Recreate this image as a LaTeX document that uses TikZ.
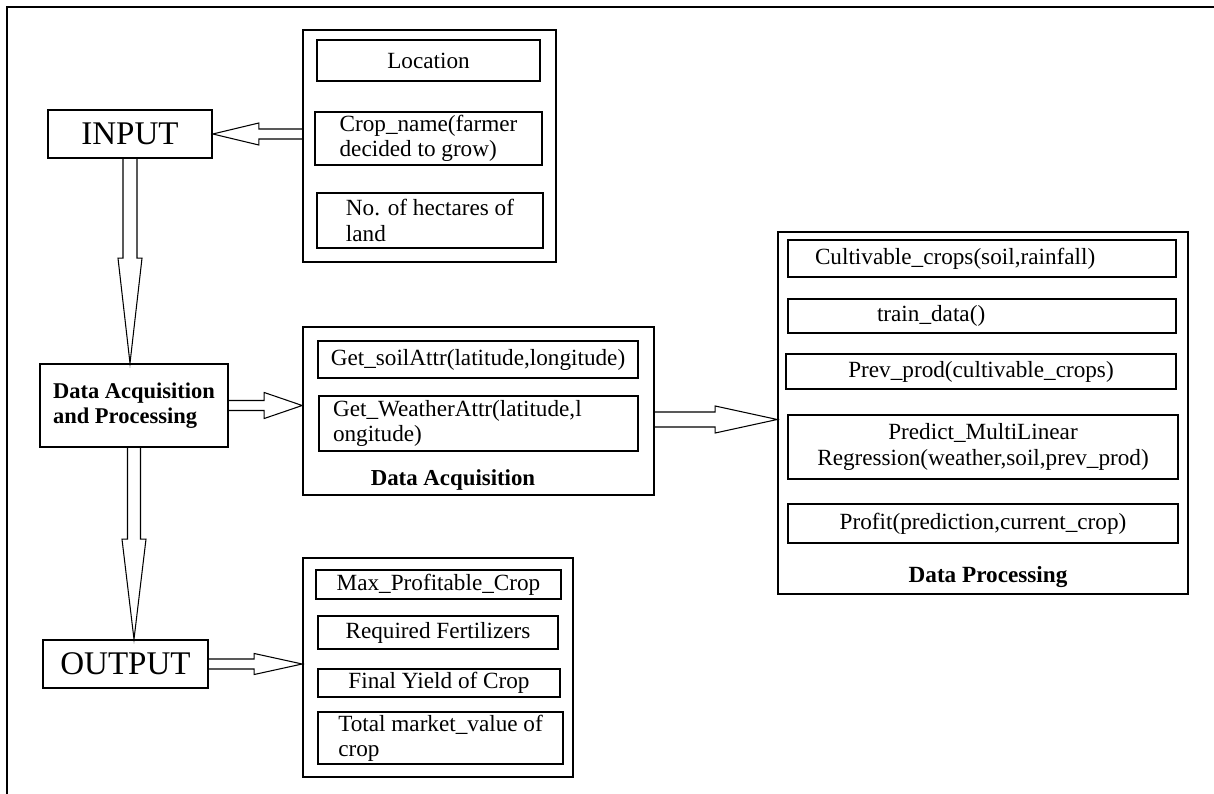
\documentclass[tikz,border=0pt]{standalone}
\usepackage{fontspec}
\setmainfont{Liberation Serif}
\usetikzlibrary{calc}
\tikzset{
    every picture/.style={line width=0.9pt},
    blk/.style={draw,inner sep=0pt,font=\fontsize{18.8}{22}\selectfont},
    grp/.style={draw,inner sep=0pt},
    itm/.style={draw,inner sep=0pt,align=center,font=\fontsize{13.2}{14.4}\selectfont},
    captxt/.style={font=\bfseries\fontsize{13}{15}\selectfont},
    fat/.style={line width=0.6pt,line join=miter}
}
% hollow block arrow: start, tip, shaft half-width, head half-width, head length
\newcommand{\fatarrow}[5]{%
    \coordinate (fa-a) at (#1);
    \coordinate (fa-b) at (#2);
    \coordinate (fa-h) at ($(fa-b)!#5!(fa-a)$);
    \draw[fat] ($(fa-a)!#3!90:(fa-b)$) -- ($(fa-h)!#3!-90:(fa-a)$) -- ($(fa-h)!#4!-90:(fa-a)$)
        -- (fa-b) -- ($(fa-h)!#4!90:(fa-a)$) -- ($(fa-h)!#3!90:(fa-a)$) -- ($(fa-a)!#3!-90:(fa-b)$);
}

\begin{document}
\begin{tikzpicture}
        \useasboundingbox (0,0) rectangle (24.28,-15.88);
        % Frame
        \draw[line width=1pt] (0.14,-15.88) -- (0.14,-0.14) -- (24.28,-0.14);

        % Input
        \node[blk,minimum width=3.28cm,minimum height=0.96cm] (inp) at (2.60,-2.68) {INPUT};
        \node[grp,minimum width=5.06cm,minimum height=4.64cm] (ingrp) at (8.59,-2.92) {};
        \node[itm,minimum width=4.46cm,minimum height=0.82cm] (loc) at (8.57,-1.21) {Location};
        \node[itm,align=left,minimum width=4.54cm,minimum height=1.06cm] (crop) at (8.57,-2.77) {Crop\_name(farmer\\decided to grow)};
        \node[itm,align=left,minimum width=4.52cm,minimum height=1.10cm] (land) at (8.60,-4.41) {No. of hectares of\\land};

        % Data acquisition
        \node[blk,align=left,font=\bfseries\fontsize{12.8}{14.2}\selectfont,minimum width=3.76cm,minimum height=1.66cm] (dap) at (2.68,-8.11) {Data Acquisition\\and Processing};
        \node[grp,minimum width=7.02cm,minimum height=3.36cm] (dagrp) at (9.57,-8.22) {};
        \node[itm,minimum width=6.40cm,minimum height=0.74cm] (soil) at (9.56,-7.19) {Get\_soilAttr(latitude,longitude)};
        \node[itm,align=left,text width=5.82cm,inner xsep=0.28cm,minimum height=1.10cm] (wth) at (9.57,-8.47) {Get\_WeatherAttr(latitude,l\\ongitude)};
        \node[captxt] (dacap) at (9.06,-9.60) {Data Acquisition};

        % Data processing
        \node[grp,minimum width=8.20cm,minimum height=7.24cm] (dpgrp) at (19.66,-8.26) {};
        \node[itm,align=left,text width=6.68cm,inner xsep=0.54cm,minimum height=0.74cm] (cult) at (19.64,-5.17) {Cultivable\_crops(soil,rainfall)};
        \node[itm,align=left,text width=4.20cm,inner xsep=1.78cm,minimum height=0.68cm] (train) at (19.64,-6.32) {train\_data()};
        \node[itm,minimum width=7.80cm,minimum height=0.70cm] (prev) at (19.62,-7.43) {Prev\_prod(cultivable\_crops)};
        \node[itm,minimum width=7.80cm,minimum height=1.28cm] (pred) at (19.66,-8.94) {Predict\_MultiLinear\\Regression(weather,soil,prev\_prod)};
        \node[itm,minimum width=7.80cm,minimum height=0.78cm] (prof) at (19.66,-10.47) {Profit(prediction,current\_crop)};
        \node[captxt,font=\bfseries\fontsize{13.2}{15}\selectfont] (dpcap) at (19.76,-11.54) {Data Processing};

        % Output
        \node[blk,minimum width=3.30cm,minimum height=0.96cm] (outp) at (2.51,-13.28) {OUTPUT};
        \node[grp,minimum width=5.40cm,minimum height=4.38cm] (outgrp) at (8.76,-13.35) {};
        \node[itm,minimum width=4.90cm,minimum height=0.58cm] (maxc) at (8.77,-11.69) {Max\_Profitable\_Crop};
        \node[itm,minimum width=4.80cm,minimum height=0.66cm] (fert) at (8.76,-12.65) {Required Fertilizers};
        \node[itm,minimum width=4.84cm,minimum height=0.56cm] (yld) at (8.78,-13.66) {Final Yield of Crop};
        \node[itm,align=left,minimum width=4.90cm,minimum height=1.04cm] (mval) at (8.81,-14.76) {Total market\_value of\\crop};

        % Arrows
        \fatarrow{ingrp.west |- inp.east}{inp.east}{0.10cm}{0.22cm}{0.92cm}
        \fatarrow{inp.south}{inp.south |- dap.north}{0.14cm}{0.24cm}{2.1cm}
        \fatarrow{dap.east}{dap.east -| dagrp.west}{0.10cm}{0.26cm}{0.76cm}
        \fatarrow{$(dagrp.east)+(0,-0.17)$}{$(dagrp.east -| dpgrp.west)+(0,-0.17)$}{0.15cm}{0.27cm}{1.24cm}
        \fatarrow{dap.south}{dap.south |- outp.north}{0.13cm}{0.24cm}{2.0cm}
        \fatarrow{outp.east}{outp.east -| outgrp.west}{0.10cm}{0.21cm}{0.96cm}
    \end{tikzpicture}
\end{document}
